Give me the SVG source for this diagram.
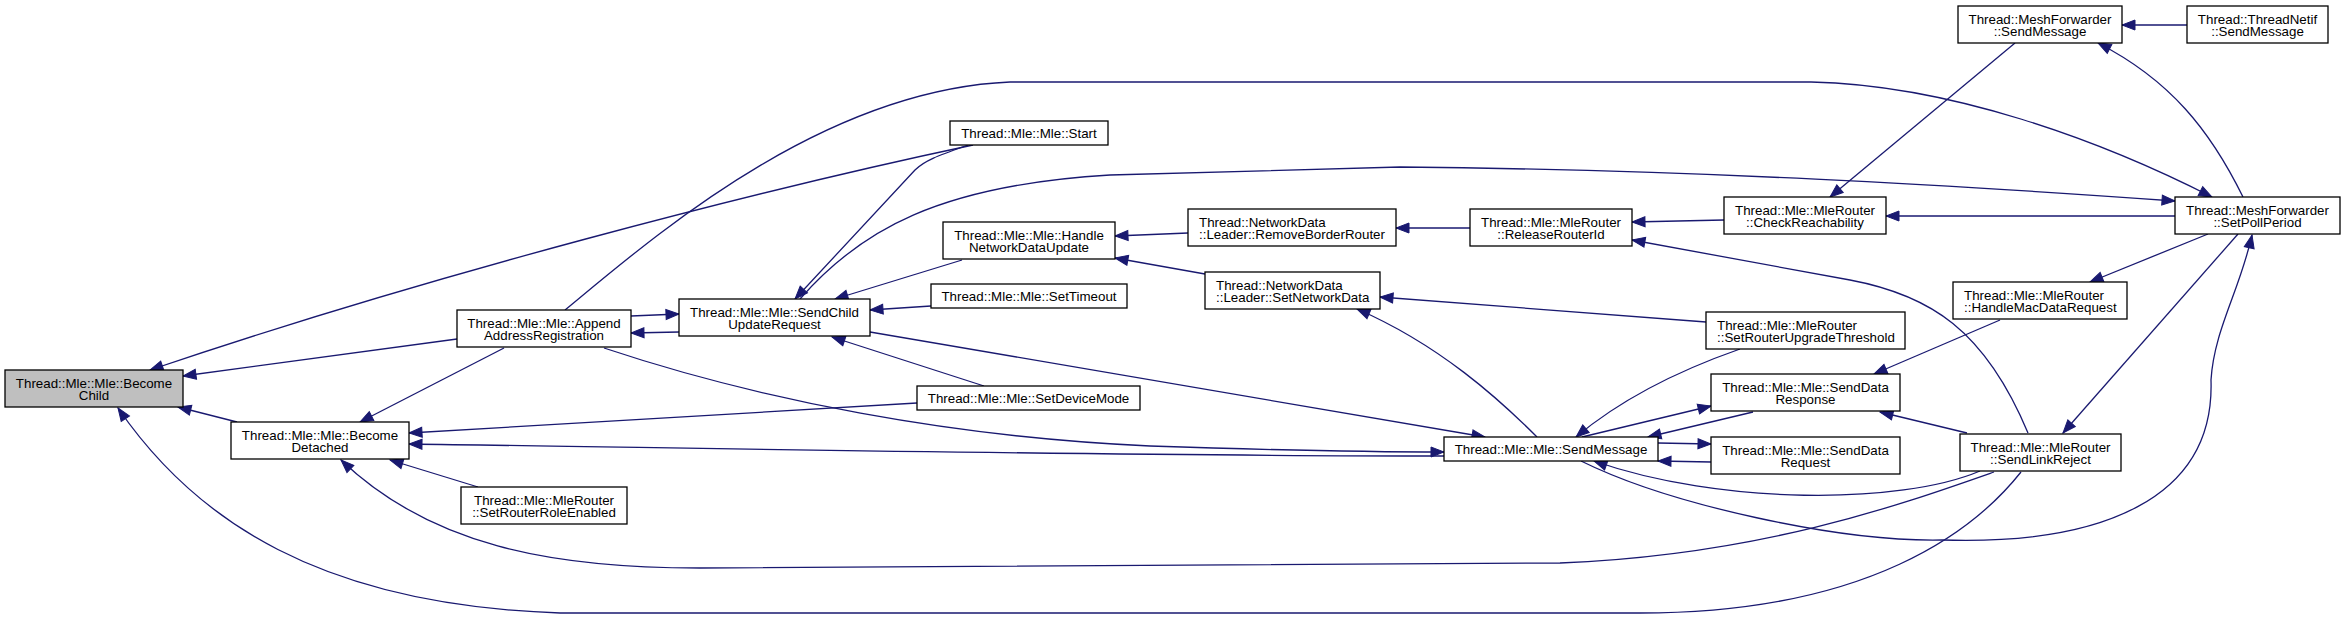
<svg xmlns="http://www.w3.org/2000/svg" width="2345" height="620" viewBox="0 0 2345 620">
<style>
rect{fill:#fff;stroke:#000;stroke-width:1.3}
rect.root{fill:#bfbfbf}
text{font-family:"Liberation Sans",Arial,Helvetica,sans-serif;font-size:13.33px;fill:#000}
.c{text-anchor:middle}
.l{text-anchor:start}
#edges path{fill:none;stroke:#191970;stroke-width:1.3;marker-end:url(#a)}
</style>
<defs>
<marker id="a" markerUnits="userSpaceOnUse" markerWidth="16" markerHeight="14" refX="14" refY="6" orient="auto" overflow="visible">
<path d="M1,1 L14,6 L1,11 z" fill="#191970" stroke="#191970" stroke-width="1"/>
</marker>
</defs>
<rect x="0" y="0" width="2345" height="620" style="fill:#fff;stroke:none"/>
<g id="edges">
<path d="M973,145 C760,190 430,275 150,370"/>
<path d="M457,339 L183,376"/>
<path d="M237,422 L178,407"/>
<path d="M2021,472 C1975,530 1870,613 1640,613 L560,613 C320,605 195,520 118,408"/>
<path d="M504,348 L360,422"/>
<path d="M917,403 L409,433"/>
<path d="M1444,456 C1100,456 700,448 409,444"/>
<path d="M478,487 L390,460"/>
<path d="M1994,472 C1900,505 1760,555 1560,563 L700,568 C550,568 430,545 341,460"/>
<path d="M631,316 L679,314"/>
<path d="M679,332 L631,333"/>
<path d="M968,145 C940,155 925,160 915,170 L795,299"/>
<path d="M800,299 C860,230 940,185 1110,175 L1400,167 C1700,170 1950,185 2175,201"/>
<path d="M962,260 L835,299"/>
<path d="M931,306 L870,310"/>
<path d="M984,386 L832,337"/>
<path d="M870,332 L1485,437"/>
<path d="M565,310 C650,240 820,90 1010,82 L1811,82 C1950,85 2100,140 2212,197"/>
<path d="M604,348 C760,400 950,437 1150,446 C1300,451 1380,452 1444,452"/>
<path d="M1188,233 L1115,236"/>
<path d="M1205,274 L1115,258"/>
<path d="M1470,228 L1396,228"/>
<path d="M1706,322 L1380,297"/>
<path d="M1537,437 C1500,400 1440,345 1357,309"/>
<path d="M1582,437 L1711,406"/>
<path d="M1753,412 L1648,437"/>
<path d="M1740,349 C1680,370 1620,400 1576,437"/>
<path d="M1658,443 L1711,444"/>
<path d="M1711,462 L1658,461"/>
<path d="M1980,471 C1900,505 1720,505 1594,461"/>
<path d="M1581,461 C1670,505 1840,542 1942,540 C2100,545 2215,500 2211,380 C2214,330 2240,290 2252,235"/>
<path d="M2000,320 L1874,374"/>
<path d="M1967,433 L1880,412"/>
<path d="M1724,220 L1632,222"/>
<path d="M2028,433 C1985,330 1930,295 1850,280 C1770,265 1700,252 1632,240"/>
<path d="M2015,43 L1830,197"/>
<path d="M2175,216 L1886,216"/>
<path d="M2187,25 L2122,25"/>
<path d="M2243,197 C2210,130 2170,80 2098,43"/>
<path d="M2208,234 L2090,282"/>
<path d="M2238,234 L2063,433"/>
</g>
<g id="BecomeChild"><rect class="root" x="5" y="370" width="178" height="37"/><text class="c" x="94" y="387.5">Thread::Mle::Mle::Become</text><text class="c" x="94" y="400.2">Child</text></g>
<g id="BecomeDetached"><rect x="231" y="422" width="178" height="37"/><text class="c" x="320" y="439.5">Thread::Mle::Mle::Become</text><text class="c" x="320" y="452.2">Detached</text></g>
<g id="AppendAddressRegistration"><rect x="457" y="310" width="174" height="37"/><text class="c" x="544" y="327.5">Thread::Mle::Mle::Append</text><text class="c" x="544" y="340.2">AddressRegistration</text></g>
<g id="SetRouterRoleEnabled"><rect x="461" y="487" width="166" height="37"/><text class="c" x="544" y="504.5">Thread::Mle::MleRouter</text><text class="c" x="544" y="517.2">::SetRouterRoleEnabled</text></g>
<g id="SendChildUpdateRequest"><rect x="679" y="299" width="191" height="37"/><text class="c" x="774.5" y="316.5">Thread::Mle::Mle::SendChild</text><text class="c" x="774.5" y="329.2">UpdateRequest</text></g>
<g id="Start"><rect x="950" y="121" width="158" height="24"/><text class="c" x="1029" y="137.7">Thread::Mle::Mle::Start</text></g>
<g id="HandleNetworkDataUpdate"><rect x="943" y="222" width="172" height="37"/><text class="c" x="1029" y="239.5">Thread::Mle::Mle::Handle</text><text class="c" x="1029" y="252.2">NetworkDataUpdate</text></g>
<g id="SetTimeout"><rect x="931" y="284" width="196" height="24"/><text class="c" x="1029" y="300.7">Thread::Mle::Mle::SetTimeout</text></g>
<g id="SetDeviceMode"><rect x="917" y="386" width="223" height="24"/><text class="c" x="1028.5" y="402.7">Thread::Mle::Mle::SetDeviceMode</text></g>
<g id="RemoveBorderRouter"><rect x="1188" y="209" width="208" height="37"/><text class="l" x="1199" y="226.5">Thread::NetworkData</text><text class="l" x="1199" y="239.2">::Leader::RemoveBorderRouter</text></g>
<g id="SetNetworkData"><rect x="1205" y="272" width="175" height="37"/><text class="l" x="1216" y="289.5">Thread::NetworkData</text><text class="l" x="1216" y="302.2">::Leader::SetNetworkData</text></g>
<g id="SendMessage"><rect x="1444" y="437" width="214" height="24"/><text class="c" x="1551" y="453.7">Thread::Mle::Mle::SendMessage</text></g>
<g id="ReleaseRouterId"><rect x="1470" y="209" width="162" height="37"/><text class="c" x="1551" y="226.5">Thread::Mle::MleRouter</text><text class="c" x="1551" y="239.2">::ReleaseRouterId</text></g>
<g id="CheckReachability"><rect x="1724" y="197" width="162" height="37"/><text class="c" x="1805" y="214.5">Thread::Mle::MleRouter</text><text class="c" x="1805" y="227.2">::CheckReachability</text></g>
<g id="SetRouterUpgradeThreshold"><rect x="1706" y="312" width="199" height="37"/><text class="l" x="1717" y="329.5">Thread::Mle::MleRouter</text><text class="l" x="1717" y="342.2">::SetRouterUpgradeThreshold</text></g>
<g id="SendDataResponse"><rect x="1711" y="374" width="189" height="37"/><text class="c" x="1805.5" y="391.5">Thread::Mle::Mle::SendData</text><text class="c" x="1805.5" y="404.2">Response</text></g>
<g id="SendDataRequest"><rect x="1711" y="437" width="189" height="37"/><text class="c" x="1805.5" y="454.5">Thread::Mle::Mle::SendData</text><text class="c" x="1805.5" y="467.2">Request</text></g>
<g id="MeshForwarderSendMessage"><rect x="1958" y="6" width="164" height="37"/><text class="c" x="2040" y="23.5">Thread::MeshForwarder</text><text class="c" x="2040" y="36.2">::SendMessage</text></g>
<g id="ThreadNetifSendMessage"><rect x="2187" y="6" width="141" height="37"/><text class="c" x="2257.5" y="23.5">Thread::ThreadNetif</text><text class="c" x="2257.5" y="36.2">::SendMessage</text></g>
<g id="SetPollPeriod"><rect x="2175" y="197" width="165" height="37"/><text class="c" x="2257.5" y="214.5">Thread::MeshForwarder</text><text class="c" x="2257.5" y="227.2">::SetPollPeriod</text></g>
<g id="HandleMacDataRequest"><rect x="1953" y="282" width="174" height="37"/><text class="l" x="1964" y="299.5">Thread::Mle::MleRouter</text><text class="l" x="1964" y="312.2">::HandleMacDataRequest</text></g>
<g id="SendLinkReject"><rect x="1960" y="434" width="161" height="37"/><text class="c" x="2040.5" y="451.5">Thread::Mle::MleRouter</text><text class="c" x="2040.5" y="464.2">::SendLinkReject</text></g>
</svg>
